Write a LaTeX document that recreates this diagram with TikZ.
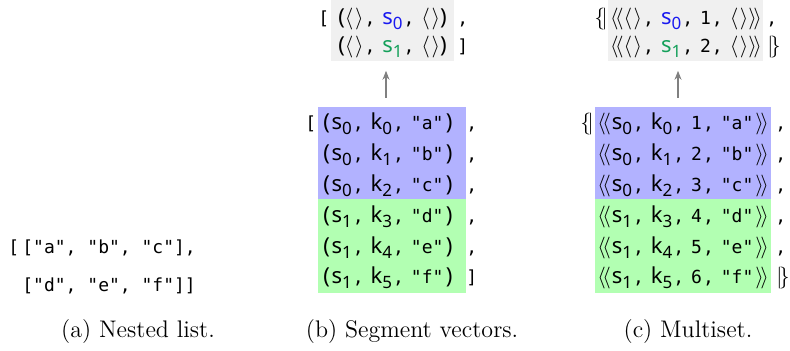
\documentclass[tikz,border=0pt]{standalone}
\usepackage{fontspec}
\newfontfamily\codef{DejaVu Sans Mono}
\newfontfamily\varf{Noto Sans}
\usetikzlibrary{arrows.meta}
\definecolor{segblue}{RGB}{178,178,255}
\definecolor{seggreen}{RGB}{178,255,178}
\definecolor{topgray}{RGB}{240,240,240}
\definecolor{sblue}{RGB}{25,25,240}
\definecolor{sgreen}{RGB}{20,160,90}
\newcommand\codesize{\codef\fontsize{9}{11}\selectfont}
\newcommand\vv[2]{{\varf\fontsize{11}{12}\selectfont #1}{\raisebox{-0.5ex}{\varf\fontsize{8.5}{8}\selectfont #2}}}
\newcommand\lpt{{\varf\fontsize{11}{12}\selectfont(}}
\newcommand\rpt{{\varf\fontsize{11}{12}\selectfont)}}
\newcommand\lp{\lpt\hspace{0.8pt}}
\newcommand\rp{\hspace{1.2pt}\rpt}
\newcommand\cm{\hspace{0.5pt}{\codef,}\hspace{3.5pt}}
\newcommand\emp{{\fontsize{11}{12}\selectfont$\langle\hspace{0.8pt}\rangle$}}
\newcommand\dlt{{\fontsize{11}{12}\selectfont$\langle\!\langle$}}
\newcommand\drt{{\fontsize{11}{12}\selectfont$\rangle\!\rangle$}}
\newcommand\dl{\dlt\hspace{0.5pt}}
\newcommand\dr{\hspace{1pt}\drt}
\newcommand\ml{{\fontsize{11}{12}\selectfont$\{\!|$}}
\newcommand\mr{{\fontsize{11}{12}\selectfont$|\!\}$}}
\tikzset{
  txt/.style={inner sep=0, anchor=base, font=\codesize},
  lft/.style={inner sep=0, anchor=base west, font=\codesize},
  capt/.style={inner sep=0, anchor=base, font=\fontsize{12}{14}\selectfont},
  panel/.style={inner sep=0, anchor=north west, draw=none},
  up/.style={draw=gray, line width=0.6pt, -{Stealth[length=4.5pt,width=3.5pt]}, shorten <=4.5pt, shorten >=4.5pt}
}
\begin{document}
\begin{tikzpicture}[x=0.5pt,y=-0.5pt]
\useasboundingbox (0,0) rectangle (790,351);
% panel (a)
\node[lft] (a0) at (8,254) {[};
\node[lft] (a1) at (22,254) {["a", "b", "c"],};
\node[lft] (a2) at (22,292) {["d", "e", "f"]]};
\node[capt] (capa) at (138,337) {(a) Nested list.};
% panel (b)
\node[panel, fill=topgray, minimum width=61.5pt, minimum height=30.5pt] (bgray) at (331,0) {};
\node[panel, fill=segblue, minimum width=74pt, minimum height=46pt] (bblue) at (318,107) {};
\node[panel, fill=seggreen, minimum width=74pt, minimum height=47pt] (bgreen) at (318,199) {};
\node[txt] (bt1) at (392.5,25) {\lpt\emp\cm{\color{sblue}\vv{s}{0}}\cm\emp\rpt};
\node[txt] (bt2) at (392.5,53) {\lpt\emp\cm{\color{sgreen}\vv{s}{1}}\cm\emp\rpt};
\node[lft] (btl) at (318,25) {[};
\node[lft] (btc) at (457,25) {,};
\node[lft] (btr) at (457,53) {]};
\node[lft] (b1) at (323,130) {\lp\vv{s}{0}\cm\vv{k}{0}\cm"a"\rp};
\node[lft] (b2) at (323,160.8) {\lp\vv{s}{0}\cm\vv{k}{1}\cm"b"\rp};
\node[lft] (b3) at (323,191.6) {\lp\vv{s}{0}\cm\vv{k}{2}\cm"c"\rp};
\node[lft] (b4) at (323,222.4) {\lp\vv{s}{1}\cm\vv{k}{3}\cm"d"\rp};
\node[lft] (b5) at (323,253.2) {\lp\vv{s}{1}\cm\vv{k}{4}\cm"e"\rp};
\node[lft] (b6) at (323,284) {\lp\vv{s}{1}\cm\vv{k}{5}\cm"f"\rp};
\node[lft] (bl) at (305,130) {[};
\foreach \yy/\nm in {130/1,160.8/2,191.6/3,222.4/4,253.2/5}
  \node[lft] (bc\nm) at (466,\yy) {,};
\node[lft] (br) at (466,284) {]};
\coordinate (barr) at (386,0);
\draw[up] (bblue.north -| barr) -- (bgray.south -| barr);
\node[capt] (capb) at (412,337) {(b) Segment vectors.};
% panel (c)
\node[panel, fill=topgray, minimum width=77.5pt, minimum height=30.5pt] (cgray) at (608,0) {};
\node[panel, fill=segblue, minimum width=88pt, minimum height=46pt] (cblue) at (595,107) {};
\node[panel, fill=seggreen, minimum width=88pt, minimum height=47pt] (cgreen) at (595,199) {};
\node[txt] (ct1) at (686,25) {\dlt\emp\cm{\color{sblue}\vv{s}{0}}\cm1\cm\emp\drt};
\node[txt] (ct2) at (686,53) {\dlt\emp\cm{\color{sgreen}\vv{s}{1}}\cm2\cm\emp\drt};
\node[lft] (ctl) at (594,25) {\ml};
\node[lft] (ctc) at (766,25) {,};
\node[lft] (ctr) at (767,53) {\mr};
\node[lft] (c1) at (597,130) {\dl\vv{s}{0}\cm\vv{k}{0}\cm1\cm"a"\dr};
\node[lft] (c2) at (597,160.8) {\dl\vv{s}{0}\cm\vv{k}{1}\cm2\cm"b"\dr};
\node[lft] (c3) at (597,191.6) {\dl\vv{s}{0}\cm\vv{k}{2}\cm3\cm"c"\dr};
\node[lft] (c4) at (597,222.4) {\dl\vv{s}{1}\cm\vv{k}{3}\cm4\cm"d"\dr};
\node[lft] (c5) at (597,253.2) {\dl\vv{s}{1}\cm\vv{k}{4}\cm5\cm"e"\dr};
\node[lft] (c6) at (597,284) {\dl\vv{s}{1}\cm\vv{k}{5}\cm6\cm"f"\dr};
\node[lft] (cl) at (580,130) {\ml};
\foreach \yy/\nm in {130/1,160.8/2,191.6/3,222.4/4,253.2/5}
  \node[lft] (cc\nm) at (775,\yy) {,};
\node[lft] (cr) at (776,284) {\mr};
\coordinate (carr) at (678,0);
\draw[up] (cblue.north -| carr) -- (cgray.south -| carr);
\node[capt] (capc) at (688,337) {(c) Multiset.};
\end{tikzpicture}
\end{document}
